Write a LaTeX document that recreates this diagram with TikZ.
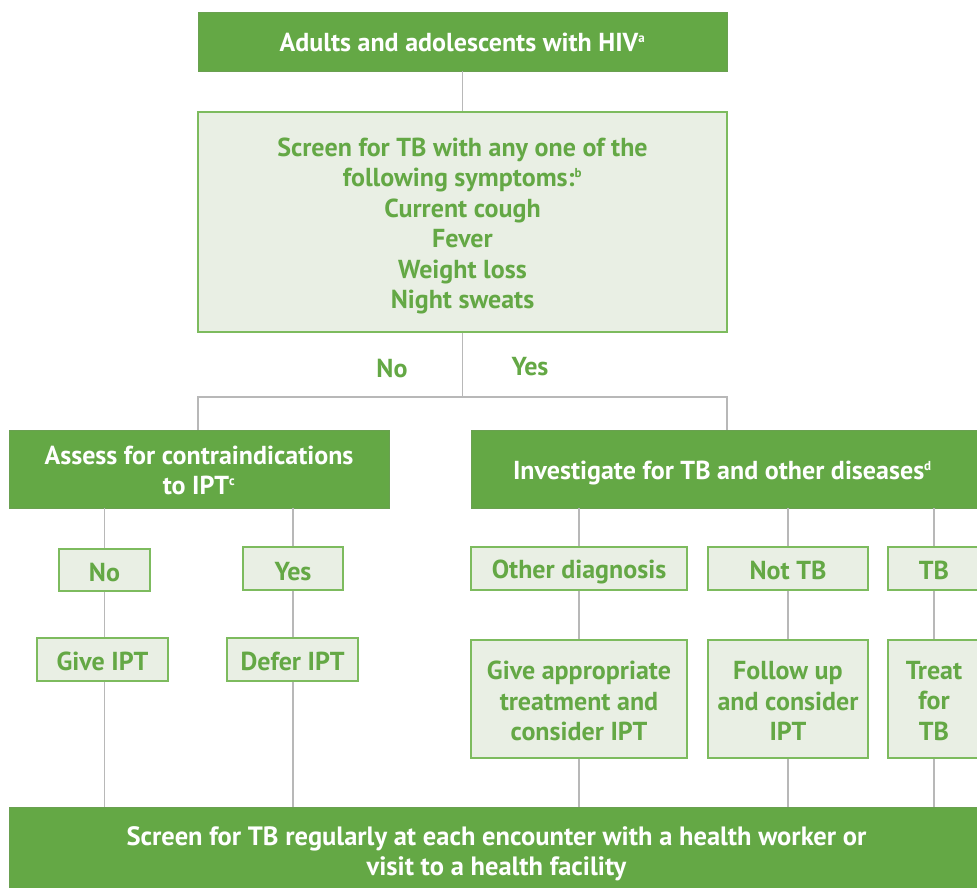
\documentclass[tikz,border=0pt]{standalone}
\usepackage{fontspec}
\setmainfont{PT Sans}
\definecolor{dkgreen}{HTML}{64A845}
\definecolor{ltfill}{HTML}{E9EFE4}
\definecolor{ltborder}{HTML}{7DBB5E}
\definecolor{txtgreen}{HTML}{64A845}
\definecolor{conn}{HTML}{B8B8B8}
\tikzset{
  dark/.style={rectangle, fill=dkgreen, draw=dkgreen!80!gray, line width=0.8pt, text=white, font=\fontsize{26}{30}\selectfont\bfseries, align=center, inner sep=0pt},
  light/.style={rectangle, fill=ltfill, draw=ltborder, line width=1.3pt, text=txtgreen, font=\fontsize{26}{30.5}\selectfont\bfseries, align=center, inner sep=0pt},
  bare/.style={draw=none, fill=none},
  lbl/.style={text=txtgreen, font=\fontsize{26}{30}\selectfont\bfseries, inner sep=0pt},
  link/.style={draw=conn, line width=1.3pt}
}
\newcommand{\supr}[1]{\textsuperscript{\fontsize{13}{13}\selectfont #1}}
% \bx{style}{name}{(pos)}{width}{height}{text yshift}{text}
\newcommand{\bx}[7]{%
  \node[#1, minimum width=#4pt, minimum height=#5pt] (#2) at #3 {};
  \node[#1, bare] (#2-t) at ([yshift=#6pt]#2.center) {#7};}
\begin{document}
\begin{tikzpicture}[x=1pt,y=1pt]
\useasboundingbox (0,0) rectangle (977,887);
\clip (0,0) rectangle (977,887);
% nodes
\bx{dark}{top}{(462.5,845.5)}{529}{59}{-1}{Adults and adolescents with HIV\supr{a}}
\bx{light}{screen}{(462.5,665)}{529}{220}{-4}{Screen for TB with any one of the\\following symptoms:\supr{b}\\Current cough\\Fever\\Weight loss\\Night sweats}
\bx{dark}{assess}{(199,418)}{380}{78}{-1}{Assess for contraindications\\to IPT\supr{c}}
\node[dark, minimum width=519pt, minimum height=78pt] (invest) at (730.5,418) {};
\node[dark, bare, anchor=west] (invest-t) at ([xshift=42pt,yshift=-4pt]invest.west) {Investigate for TB and other diseases\supr{d}};
\bx{light}{no}{(104.5,317)}{91}{42}{-3}{No}
\bx{light}{yes}{(293,318.5)}{100}{43}{-3}{Yes}
\bx{light}{give}{(102.5,227.5)}{131}{43}{-2}{Give IPT}
\bx{light}{defer}{(292.5,227.5)}{131}{43}{-2}{Defer IPT}
\bx{light}{other}{(579,318.5)}{216}{43}{-3}{Other diagnosis}
\bx{light}{nottb}{(788,318.5)}{160}{43}{-2}{Not TB}
\bx{light}{tb}{(934,318.5)}{92}{43}{-2}{TB}
\bx{light}{giveapp}{(579,188)}{216}{118}{-2}{Give appropriate\\treatment and\\consider IPT}
\bx{light}{follow}{(788,188)}{160}{118}{-2}{Follow up\\and consider\\IPT}
\bx{light}{treat}{(934,188)}{92}{118}{-2}{Treat\\for\\TB}
\node[dark, minimum width=981pt, minimum height=88pt] (bottom) at (499.5,36) {};
\node[dark, bare, font=\fontsize{26.5}{30}\selectfont\bfseries] (bottom-t) at ([xshift=-3pt,yshift=-3pt]bottom.center) {Screen for TB regularly at each encounter with a health worker or\\visit to a health facility};
\node[lbl] (lno) at (392,518) {No};
\node[lbl] (lyes) at (530,520) {Yes};
% junctions
\coordinate (j) at (462.5,490);
\coordinate (jl) at (198,490);
\coordinate (jr) at (727,490);
% connectors
\draw[link] (top.south) -- (screen.north);
\draw[link] (screen.south) -- (j);
\draw[link] (assess.north -| jl) -- (jl) -- (jr) -- (invest.north -| jr);
\draw[link] (no.north) -- (no.north |- assess.south);
\draw[link] (yes.north) -- (yes.north |- assess.south);
\draw[link] (no.south) -- (no.south |- give.north);
\draw[link] (yes.south) -- (yes.south |- defer.north);
\draw[link] (no.south |- give.south) -- (no.south |- bottom.north);
\draw[link] (yes.south |- defer.south) -- (yes.south |- bottom.north);
\draw[link] (other.north) -- (other.north |- invest.south);
\draw[link] (nottb.north) -- (nottb.north |- invest.south);
\draw[link] (tb.north) -- (tb.north |- invest.south);
\draw[link] (other.south) -- (giveapp.north);
\draw[link] (nottb.south) -- (follow.north);
\draw[link] (tb.south) -- (treat.north);
\draw[link] (giveapp.south) -- (giveapp.south |- bottom.north);
\draw[link] (follow.south) -- (follow.south |- bottom.north);
\draw[link] (treat.south) -- (treat.south |- bottom.north);
\end{tikzpicture}
\end{document}
